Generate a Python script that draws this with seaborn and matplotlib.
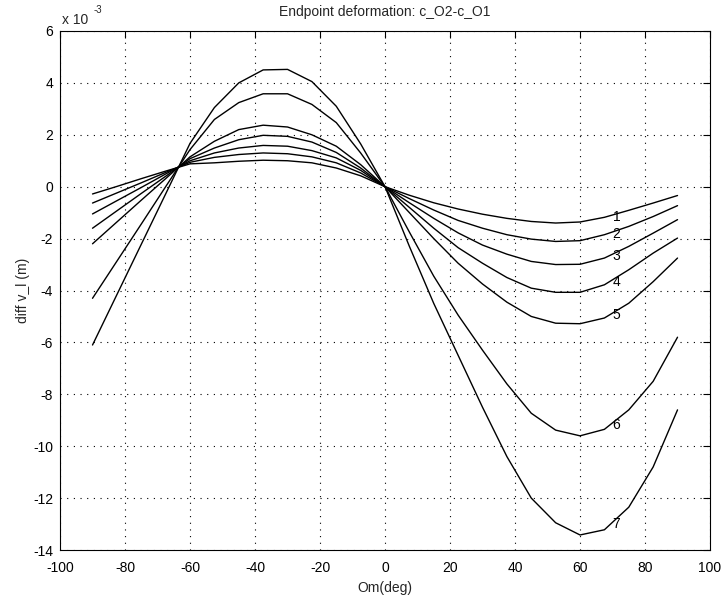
import matplotlib
matplotlib.use("Agg")
import matplotlib.pyplot as plt
import seaborn as sns
import numpy as np
import pandas as pd

# Om angle grid (deg)
om_deg = [-90, -82.5, -75, -67.5, -60, -52.5, -45, -37.5, -30, -22.5, -15, -7.5,
          0, 7.5, 15, 22.5, 30, 37.5, 45, 52.5, 60, 67.5, 75, 82.5, 90]

# diff v_l, in units of 1e-3 m, one list per curve
curve_1 = [-0.28, 0.01, 0.31, 0.60, 0.88, 0.92, 0.98, 1.02, 1.00, 0.92, 0.72, 0.42, 0.0,
           -0.33, -0.62, -0.86, -1.06, -1.22, -1.34, -1.40, -1.36, -1.18, -0.91, -0.63, -0.34]
curve_2 = [-0.63, -0.24, 0.15, 0.55, 0.94, 1.13, 1.24, 1.30, 1.27, 1.15, 0.92, 0.53, 0.0,
           -0.46, -0.90, -1.30, -1.60, -1.85, -2.02, -2.11, -2.08, -1.85, -1.53, -1.15, -0.73]
curve_3 = [-1.05, -0.54, -0.03, 0.49, 1.00, 1.30, 1.49, 1.59, 1.56, 1.39, 1.11, 0.63, 0.0,
           -0.62, -1.22, -1.78, -2.25, -2.60, -2.88, -3.00, -2.99, -2.75, -2.30, -1.79, -1.27]
curve_4 = [-1.60, -0.93, -0.26, 0.40, 1.08, 1.49, 1.81, 1.98, 1.94, 1.72, 1.32, 0.72, 0.0,
           -0.80, -1.60, -2.35, -2.95, -3.50, -3.91, -4.07, -4.07, -3.78, -3.20, -2.56, -1.98]
curve_5 = [-2.20, -1.36, -0.52, 0.31, 1.15, 1.75, 2.20, 2.37, 2.30, 2.00, 1.56, 0.85, 0.0,
           -1.00, -2.00, -2.95, -3.75, -4.45, -5.00, -5.26, -5.28, -5.06, -4.49, -3.66, -2.75]
curve_6 = [-4.30, -2.87, -1.44, 0.00, 1.43, 2.59, 3.24, 3.58, 3.58, 3.17, 2.47, 1.30, 0.0,
           -1.75, -3.45, -4.95, -6.30, -7.60, -8.73, -9.38, -9.60, -9.35, -8.60, -7.50, -5.80]
curve_7 = [-6.10, -4.16, -2.22, -0.28, 1.67, 3.05, 4.00, 4.50, 4.52, 4.05, 3.10, 1.65, 0.0,
           -2.30, -4.50, -6.50, -8.50, -10.40, -12.00, -12.95, -13.42, -13.22, -12.35, -10.80, -8.60]

curve_names = ['1', '2', '3', '4', '5', '6', '7']
curves = [curve_1, curve_2, curve_3, curve_4, curve_5, curve_6, curve_7]

x_ticks = [-100, -80, -60, -40, -20, 0, 20, 40, 60, 80, 100]
y_ticks = [-14, -12, -10, -8, -6, -4, -2, 0, 2, 4, 6]

# long table for seaborn
df = pd.concat(
    [pd.DataFrame({'Om': om_deg, 'diff': c, 'curve': n}) for n, c in zip(curve_names, curves)],
    ignore_index=True,
)

sns.set_style('white')
plt.rcParams['font.family'] = ['Liberation Sans', 'DejaVu Sans']
plt.rcParams['font.size'] = 10
plt.rcParams['axes.unicode_minus'] = False  # plain hyphen like the original

fig = plt.figure(figsize=(7.24, 5.97), dpi=100)
ax = fig.add_axes([0.0829, 0.0787, 0.8978, 0.8694])

sns.lineplot(
    data=df, x='Om', y='diff', hue='curve', palette=['black'] * 7,
    estimator=None, sort=False, legend=False, linewidth=1.0, ax=ax,
)

# curve numbers, just right of Om = 70
for n, c in zip(curve_names, curves):
    ax.text(70, np.interp(70, om_deg, c) - 0.08, n, ha='left', va='center',
            fontsize=10, color='black')

ax.set_xlim(-100, 100)
ax.set_ylim(-14, 6)
ax.set_xticks(x_ticks)
ax.set_yticks(y_ticks)
ax.grid(True, color='black', linestyle=(0, (1, 5)), linewidth=0.8)
ax.tick_params(direction='in', length=5, width=0.8, top=True, right=True,
               labelsize=10, colors='black')
ax.tick_params(axis='x', pad=8)
ax.tick_params(axis='y', pad=5)
for s in ax.spines.values():
    s.set_color('black')
    s.set_linewidth(0.8)

ax.set_xlabel('Om(deg)', fontsize=10, labelpad=4)
ax.set_ylabel('diff v_l (m)', fontsize=10, labelpad=2)
ax.set_title('Endpoint deformation: c_O2-c_O1', fontsize=10, pad=11)

# exponent label like the original
fig.text(0.085, 0.967, 'x 10', fontsize=10, ha='left', va='center')
fig.text(0.129, 0.983, '-3', fontsize=7, ha='left', va='center')

fig.savefig('out.png', dpi=100)
